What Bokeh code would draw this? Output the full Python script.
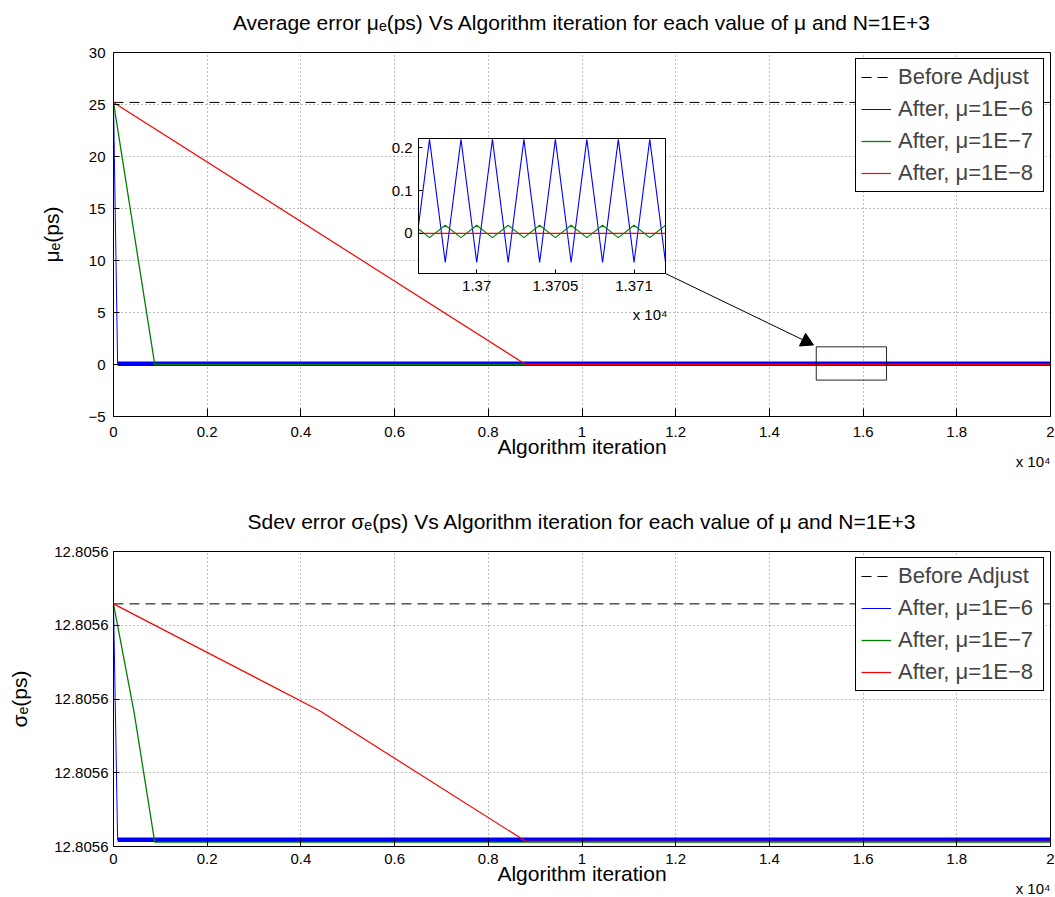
from bokeh.plotting import figure
from bokeh.models import (Range1d, FixedTicker, Legend, LegendItem, Title,
                          GridBox, PrintfTickFormatter)
from bokeh.embed import file_html
from bokeh.resources import INLINE

FONT = "Liberation Sans"

# ---------------- data ----------------
iter_ticks = [0, 2000, 4000, 6000, 8000, 10000, 12000, 14000, 16000, 18000, 20000]
iter_tick_labels = ["0", "0.2", "0.4", "0.6", "0.8", "1", "1.2", "1.4", "1.6", "1.8", "2"]

mu_ticks = [-5, 0, 5, 10, 15, 20, 25, 30]
mu_tick_labels = ["\u22125", "0", "5", "10", "15", "20", "25", "30"]

legend_labels = ["Before Adjust", "After, \u03bc=1E\u22126", "After, \u03bc=1E\u22127", "After, \u03bc=1E\u22128"]

# average error mu_e (ps)
mu_before_x = [0, 20000]
mu_before_y = [25.2, 25.2]
mu_e6_x = [0, 88, 20000]
mu_e6_y = [25.2, 0.08, 0.08]
mu_e7_x = [0, 880, 20000]
mu_e7_y = [25.2, 0.005, 0.005]
mu_e8_x = [0, 8800, 20000]
mu_e8_y = [25.2, 0.0, 0.0]

# sdev error sigma_e (ps)
sd_ticks = [12.80556, 12.80557, 12.80558, 12.80559, 12.80560]
sd_before_x = [0, 20000]
sd_before_y = [12.8055929, 12.8055929]
sd_e6_x = [0, 88, 20000]
sd_e6_y = [12.8055929, 12.8055609, 12.8055609]
sd_e7_x = [0, 440, 880, 20000]
sd_e7_y = [12.8055929, 12.8055782, 12.8055606, 12.8055606]
sd_e8_x = [0, 4400, 8800, 20000]
sd_e8_y = [12.8055929, 12.8055784, 12.8055607, 12.8055607]

# inset (zoom on iterations 1.3696e4 .. 1.3712e4)
inset_x = [13696, 13697, 13698, 13699, 13700, 13701, 13702, 13703, 13704,
           13705, 13706, 13707, 13708, 13709, 13710, 13711, 13712]
inset_e6 = [-0.068, 0.22, -0.068, 0.22, -0.068, 0.22, -0.068, 0.22, -0.068,
            0.22, -0.068, 0.22, -0.068, 0.22, -0.068, 0.22, -0.068]
inset_e7 = [0.019, -0.010, 0.019, -0.010, 0.019, -0.010, 0.019, -0.010, 0.019,
            -0.010, 0.019, -0.010, 0.019, -0.010, 0.019, -0.010, 0.019]
inset_e8 = [0.0, 0.0, 0.0, 0.0, 0.0, 0.0, 0.0, 0.0, 0.0,
            0.0, 0.0, 0.0, 0.0, 0.0, 0.0, 0.0, 0.0]
inset_xticks = [13700, 13705, 13710]
inset_xtick_labels = ["1.37", "1.3705", "1.371"]
inset_yticks = [0, 0.1, 0.2]
inset_ytick_labels = ["0", "0.1", "0.2"]

# zoom rectangle (data coords of top chart) and arrow pointing at it
zoom_left, zoom_right, zoom_bottom, zoom_top = 15000, 16500, -1.5, 1.7
arrow_start = (11782, 8.75)
arrow_head = (14785, 2.22)
arrow_head_angle = -115.8  # degrees

BLUE = "#0000ff"
GREEN = "#008000"
RED = "#ff0000"
X10 = "x 10\u2074"


def style_axes(p, xticks, xlabels, yticks, ylabel, ylabel_standoff, ytick_standoff,
               xtick_standoff, xlabel_standoff):
    xa = p.below[0]
    xa.ticker = FixedTicker(ticks=xticks)
    xa.major_label_overrides = dict(zip(xticks, xlabels))
    xa.axis_label = "Algorithm iteration"
    xa.axis_label_standoff = xlabel_standoff
    xa.major_label_standoff = xtick_standoff
    ya = p.left[0]
    ya.ticker = FixedTicker(ticks=yticks)
    ya.axis_label = ylabel
    ya.axis_label_standoff = ylabel_standoff
    ya.major_label_standoff = ytick_standoff
    for ax in (xa, ya):
        ax.axis_label_text_font = FONT
        ax.axis_label_text_font_size = "21px"
        ax.axis_label_text_font_style = "normal"
        ax.axis_label_text_color = "black"
        ax.major_label_text_font = FONT
        ax.major_label_text_font_size = "15px"
        ax.major_label_text_color = "black"
        ax.axis_line_color = "black"
        ax.major_tick_line_color = "black"
        ax.major_tick_out = 0
        ax.minor_tick_line_color = None
    xa.major_tick_in = 8
    ya.major_tick_in = 6
    p.xgrid.ticker = FixedTicker(ticks=xticks)
    p.ygrid.ticker = FixedTicker(ticks=yticks)
    for g in (p.xgrid, p.ygrid):
        g.grid_line_color = "black"
        g.grid_line_alpha = 0.5
        g.grid_line_dash = "1 3"
        g.grid_line_width = 1


def make_main(height, yr, bt, bb, title):
    p = figure(width=1055, height=height, x_range=Range1d(0, 20000), y_range=Range1d(*yr),
               output_backend="svg", toolbar_location=None, title=title,
               min_border_left=113, min_border_right=5, min_border_top=bt, min_border_bottom=bb,
               background_fill_color="white", border_fill_color="white")
    p.outline_line_color = "black"
    p.outline_line_alpha = 1
    p.title.text_font = FONT
    p.title.text_font_size = "21px"
    p.title.text_font_style = "normal"
    p.title.text_color = "black"
    p.title.align = "center"
    p.title.standoff = 38
    return p


def add_lines(p, before, e6, e7, e8):
    r0 = p.line(before[0], before[1], line_color="black", line_dash="10 6", line_width=1)
    p.line(e6[0][1:], e6[1][1:], line_color=BLUE, line_width=4.5)
    r1 = p.line(e6[0], e6[1], line_color=BLUE, line_width=1)
    r2 = p.line(e7[0], e7[1], line_color=GREEN, line_width=1.3)
    r3 = p.line(e8[0], e8[1], line_color=RED, line_width=1.2)
    leg = Legend(items=[LegendItem(label=legend_labels[i], renderers=[r])
                        for i, r in enumerate([r0, r1, r2, r3])],
                 location="top_right", margin=6, padding=5, spacing=6,
                 glyph_width=30, glyph_height=26, label_height=26, label_width=140,
                 label_standoff=7, label_text_font=FONT, label_text_font_size="22px",
                 border_line_color="black", border_line_alpha=1, border_line_width=1,
                 background_fill_color="white", background_fill_alpha=1)
    p.add_layout(leg)


def add_x10(p, standoff, offset=0):
    p.add_layout(Title(text=X10, align="right", text_font=FONT, text_font_size="15px",
                       text_font_style="normal", text_color="black",
                       standoff=standoff, offset=offset), "below")


# ---------------- top chart (grid is shifted up by 12px) ----------------
p1 = make_main(490, (-5, 30), 64, 62,
               "Average error \u03bc\u2091(ps) Vs Algorithm iteration for each value of \u03bc and N=1E+3")
style_axes(p1, iter_ticks, iter_tick_labels, mu_ticks, "\u03bc\u2091(ps)", 22, 8, 10, -5)
p1.left[0].major_label_overrides = dict(zip(mu_ticks, mu_tick_labels))
p1.segment(x0=[arrow_start[0]], y0=[arrow_start[1]], x1=[arrow_head[0]], y1=[arrow_head[1]],
           line_color="black", line_width=1)
p1.scatter(x=[arrow_head[0]], y=[arrow_head[1]], marker="triangle", size=14,
           angle=arrow_head_angle, angle_units="deg", fill_color="black", line_color="black")
add_lines(p1, (mu_before_x, mu_before_y), (mu_e6_x, mu_e6_y), (mu_e7_x, mu_e7_y), (mu_e8_x, mu_e8_y))
p1.quad(left=[zoom_left], right=[zoom_right], bottom=[zoom_bottom], top=[zoom_top],
        fill_alpha=0, line_color="black", line_width=1, line_alpha=0.85)
add_x10(p1, -19)

# ---------------- inset ----------------
ins = figure(width=283, height=199, x_range=Range1d(13696.3, 13712.0), y_range=Range1d(-0.094, 0.222),
             output_backend="svg", toolbar_location=None, title=None,
             min_border_left=32, min_border_right=4, min_border_top=2, min_border_bottom=62,
             background_fill_color="white", border_fill_color=None)
ins.outline_line_color = "black"
ins.outline_line_alpha = 1
ins.grid.visible = False
ins.line(inset_x, inset_e6, line_color=BLUE, line_width=1.1)
ins.line(inset_x, inset_e7, line_color=GREEN, line_width=1.1)
ins.line(inset_x, inset_e8, line_color=RED, line_width=1.1)
ix = ins.below[0]
ix.ticker = FixedTicker(ticks=inset_xticks)
ix.major_label_overrides = dict(zip(inset_xticks, inset_xtick_labels))
ix.major_label_standoff = 7
iy = ins.left[0]
iy.ticker = FixedTicker(ticks=inset_yticks)
iy.major_label_overrides = dict(zip(inset_yticks, inset_ytick_labels))
iy.major_label_standoff = 6
for ax in (ix, iy):
    ax.major_label_text_font = FONT
    ax.major_label_text_font_size = "15px"
    ax.major_label_text_color = "black"
    ax.axis_line_color = "black"
    ax.major_tick_line_color = "black"
    ax.major_tick_out = 0
    ax.major_tick_in = 4
    ax.minor_tick_line_color = None
add_x10(ins, 20, -2)

# ---------------- bottom chart ----------------
p2 = make_main(419, (12.80556, 12.80560), 73, 51,
               "Sdev error \u03c3\u2091(ps) Vs Algorithm iteration for each value of \u03bc and N=1E+3")
style_axes(p2, iter_ticks, iter_tick_labels, sd_ticks, "\u03c3\u2091(ps)", 20, 5, 7, -5)
p2.left[0].formatter = PrintfTickFormatter(format="%.4f")
add_lines(p2, (sd_before_x, sd_before_y), (sd_e6_x, sd_e6_y), (sd_e7_x, sd_e7_y), (sd_e8_x, sd_e8_y))
add_x10(p2, -19)

grid = GridBox(children=[(p1, 0, 0, 3, 3), (ins, 1, 1, 1, 1), (p2, 3, 0, 1, 3)],
               rows=["148px", "199px", "143px", "419px"], cols=["386px", "283px", "386px"],
               margin=(-12, 0, 0, 0))

open("out.html", "w").write(file_html(grid, INLINE))
